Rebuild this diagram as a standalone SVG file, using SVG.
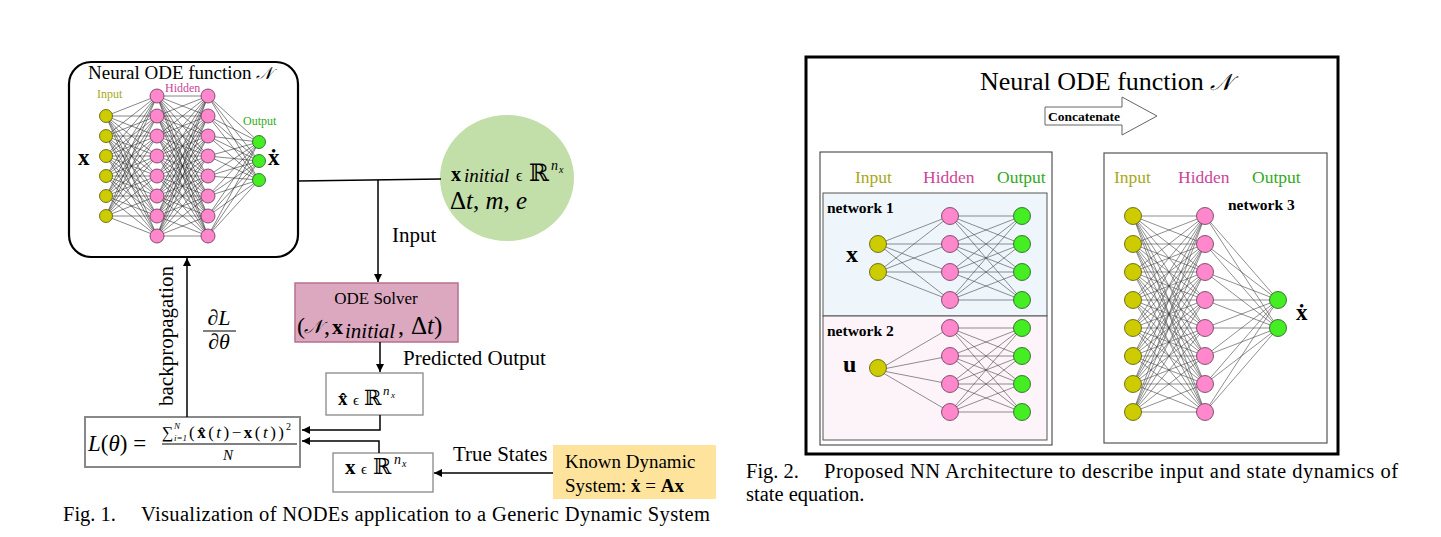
<svg xmlns="http://www.w3.org/2000/svg" width="1441" height="537" viewBox="0 0 1441 537">
<defs>
<style>
.t{font-family:"Liberation Serif","DejaVu Serif",serif;fill:#000}
.m{font-family:"Liberation Serif","DejaVu Serif",serif;fill:#000;font-style:italic}
.b{font-family:"Liberation Serif","DejaVu Serif",serif;fill:#000;font-weight:bold}
.conn{stroke:#000;stroke-width:1.5;fill:none}
.nnl{stroke:#222;stroke-width:0.55;fill:none}
.nnr{stroke:#444;stroke-width:0.6;fill:none}
.ny{fill:#cccc00;stroke:#555500;stroke-width:0.8}
.np{fill:#ff88cc;stroke:#663355;stroke-width:0.8}
.ng{fill:#44ee22;stroke:#225522;stroke-width:0.8}
.hy{fill:#a8a820}
.hp{fill:#cc4499}
.hg{fill:#33aa22}
.box{fill:#fff;stroke:#888;stroke-width:1.3}
.dash{stroke:#666;stroke-width:1;stroke-dasharray:9 6;fill:none}
</style>
<marker id="ah" viewBox="0 0 10 10" refX="10" refY="5" markerWidth="10" markerHeight="8" markerUnits="userSpaceOnUse" orient="auto">
<path d="M0 0L10 5L0 10z" fill="#000"/>
</marker>
</defs>
<rect width="1441" height="537" fill="#fff"/>

<!-- LEFT FIGURE -->
<g id="neural-ode-box">
<rect x="69" y="62" width="229" height="195" rx="22" fill="#fff" stroke="#000" stroke-width="2.2"/>
<text class="t" x="88" y="79" font-size="19">Neural ODE function <tspan class="m" font-size="17">𝒩</tspan></text>
<text class="t hy" x="97" y="98" font-size="12">Input</text>
<text class="t hp" x="165" y="92" font-size="12">Hidden</text>
<text class="t hg" x="243" y="125" font-size="12">Output</text>
<path class="nnl" d="M106 116L157 96M106 116L157 116M106 116L157 136M106 116L157 156M106 116L157 176M106 116L157 196M106 116L157 216M106 116L157 236M106 136L157 96M106 136L157 116M106 136L157 136M106 136L157 156M106 136L157 176M106 136L157 196M106 136L157 216M106 136L157 236M106 156L157 96M106 156L157 116M106 156L157 136M106 156L157 156M106 156L157 176M106 156L157 196M106 156L157 216M106 156L157 236M106 176L157 96M106 176L157 116M106 176L157 136M106 176L157 156M106 176L157 176M106 176L157 196M106 176L157 216M106 176L157 236M106 196L157 96M106 196L157 116M106 196L157 136M106 196L157 156M106 196L157 176M106 196L157 196M106 196L157 216M106 196L157 236M106 216L157 96M106 216L157 116M106 216L157 136M106 216L157 156M106 216L157 176M106 216L157 196M106 216L157 216M106 216L157 236"/>
<path class="nnl" d="M157 96L208 96M157 96L208 116M157 96L208 136M157 96L208 156M157 96L208 176M157 96L208 196M157 96L208 216M157 96L208 236M157 116L208 96M157 116L208 116M157 116L208 136M157 116L208 156M157 116L208 176M157 116L208 196M157 116L208 216M157 116L208 236M157 136L208 96M157 136L208 116M157 136L208 136M157 136L208 156M157 136L208 176M157 136L208 196M157 136L208 216M157 136L208 236M157 156L208 96M157 156L208 116M157 156L208 136M157 156L208 156M157 156L208 176M157 156L208 196M157 156L208 216M157 156L208 236M157 176L208 96M157 176L208 116M157 176L208 136M157 176L208 156M157 176L208 176M157 176L208 196M157 176L208 216M157 176L208 236M157 196L208 96M157 196L208 116M157 196L208 136M157 196L208 156M157 196L208 176M157 196L208 196M157 196L208 216M157 196L208 236M157 216L208 96M157 216L208 116M157 216L208 136M157 216L208 156M157 216L208 176M157 216L208 196M157 216L208 216M157 216L208 236M157 236L208 96M157 236L208 116M157 236L208 136M157 236L208 156M157 236L208 176M157 236L208 196M157 236L208 216M157 236L208 236"/>
<path class="nnl" d="M208 96L259 142M208 96L259 161M208 96L259 180M208 116L259 142M208 116L259 161M208 116L259 180M208 136L259 142M208 136L259 161M208 136L259 180M208 156L259 142M208 156L259 161M208 156L259 180M208 176L259 142M208 176L259 161M208 176L259 180M208 196L259 142M208 196L259 161M208 196L259 180M208 216L259 142M208 216L259 161M208 216L259 180M208 236L259 142M208 236L259 161M208 236L259 180"/>
<g class="ny"><circle cx="106" cy="116" r="6.5"/><circle cx="106" cy="136" r="6.5"/><circle cx="106" cy="156" r="6.5"/><circle cx="106" cy="176" r="6.5"/><circle cx="106" cy="196" r="6.5"/><circle cx="106" cy="216" r="6.5"/></g>
<g class="np"><circle cx="157" cy="96" r="7"/><circle cx="157" cy="116" r="7"/><circle cx="157" cy="136" r="7"/><circle cx="157" cy="156" r="7"/><circle cx="157" cy="176" r="7"/><circle cx="157" cy="196" r="7"/><circle cx="157" cy="216" r="7"/><circle cx="157" cy="236" r="7"/>
<circle cx="208" cy="96" r="7"/><circle cx="208" cy="116" r="7"/><circle cx="208" cy="136" r="7"/><circle cx="208" cy="156" r="7"/><circle cx="208" cy="176" r="7"/><circle cx="208" cy="196" r="7"/><circle cx="208" cy="216" r="7"/><circle cx="208" cy="236" r="7"/></g>
<g class="ng"><circle cx="259" cy="142" r="6.5"/><circle cx="259" cy="161" r="6.5"/><circle cx="259" cy="180" r="6.5"/></g>
<text class="b" x="78" y="165" font-size="23">x</text>
<text class="b" x="268" y="165" font-size="23">ẋ</text>
</g>

<g id="initial-conditions">
<ellipse cx="507" cy="178" rx="67" ry="63" fill="#c2dea9"/>
<text class="b" x="451" y="181" font-size="20">x</text>
<text class="m" x="464" y="182" font-size="19">initial</text>
<text class="t" x="516" y="181" font-size="16">ϵ</text>
<text class="t" x="529" y="181" font-size="24">ℝ</text>
<text class="m" x="551" y="170" font-size="14">n</text>
<text class="m" x="559" y="173" font-size="10">x</text>
<text class="t" x="450" y="209" font-size="25">Δ<tspan class="m">t</tspan>, <tspan class="m">m</tspan>, <tspan class="m">e</tspan></text>
</g>

<g id="ode-solver">
<rect x="295" y="283" width="163" height="59" fill="#dca8bf" stroke="#b5708f" stroke-width="1.5"/>
<text class="t" x="376" y="304" font-size="17" text-anchor="middle">ODE Solver</text>
<text class="t" x="297" y="334" font-size="24">(</text>
<text class="m" x="304" y="333" font-size="19">𝒩</text>
<text class="t" x="324" y="334" font-size="24">,</text>
<text class="b" x="332" y="334" font-size="22">x</text>
<text class="m" x="345" y="338" font-size="21">initial</text>
<text class="t" x="398" y="334" font-size="24">,</text>
<text class="t" x="411" y="334" font-size="25">Δ<tspan class="m">t</tspan>)</text>
</g>

<g id="predicted">
<rect class="box" x="326" y="373" width="97" height="42"/>
<text class="b" x="338" y="405" font-size="19">x̂</text>
<text class="t" x="353" y="405" font-size="15">ϵ</text>
<text class="t" x="364" y="405" font-size="21">ℝ</text>
<text class="m" x="383" y="395" font-size="13">n</text>
<text class="m" x="391" y="398" font-size="9">x</text>
</g>

<g id="true-state">
<rect class="box" x="333" y="453" width="100" height="39"/>
<text class="b" x="345" y="474" font-size="21">x</text>
<text class="t" x="361" y="474" font-size="15">ϵ</text>
<text class="t" x="373" y="474" font-size="22">ℝ</text>
<text class="m" x="394" y="464" font-size="14">n</text>
<text class="m" x="402" y="467" font-size="10">x</text>
</g>

<g id="loss">
<rect x="85" y="417" width="215" height="50" fill="#fff" stroke="#888" stroke-width="2"/>
<text class="t" x="88" y="451" font-size="23"><tspan class="m">L</tspan>(<tspan class="m">θ</tspan>) =</text>
<text class="t" x="162" y="438" font-size="16">∑</text>
<text class="m" x="174" y="429" font-size="9">N</text>
<text class="m" x="174" y="441" font-size="9">i<tspan class="t">=1</tspan></text>
<text class="t" x="189" y="438" font-size="17" textLength="95">(<tspan class="b">x̂</tspan>(<tspan class="m">t</tspan>)−<tspan class="b">x</tspan>(<tspan class="m">t</tspan>))</text>
<text class="t" x="286" y="430" font-size="10">2</text>
<line x1="162" y1="444" x2="297" y2="444" stroke="#000" stroke-width="1"/>
<text class="m" x="228" y="460" font-size="15" text-anchor="middle">N</text>
</g>

<g id="known-system">
<rect x="553" y="445" width="163" height="54" fill="#fde39c"/>
<text class="t" x="565" y="468" font-size="19">Known Dynamic</text>
<text class="t" x="565" y="492" font-size="19">System: <tspan class="b">ẋ</tspan> = <tspan class="b">Ax</tspan></text>
</g>

<g id="connectors">
<path class="conn" d="M298 181L441 179"/>
<path class="conn" d="M378 180L378 282" marker-end="url(#ah)"/>
<path class="conn" d="M380 342L380 372" marker-end="url(#ah)"/>
<path class="conn" d="M380 415L380 430L302 430" marker-end="url(#ah)"/>
<path class="conn" d="M379 453L379 441L302 441" marker-end="url(#ah)"/>
<path class="conn" d="M553 473L434 473" marker-end="url(#ah)"/>
<path class="conn" d="M187 417L187 258" marker-end="url(#ah)"/>
<path class="dash" d="M1031 216H1124M1031 244H1124M1031 272H1124M1031 300H1124M1031 328H1124M1031 356H1124M1031 384H1124M1031 412H1124"/>
</g>

<g id="labels-left">
<text class="t" x="392" y="242" font-size="21">Input</text>
<text class="t" x="403" y="365" font-size="21">Predicted Output</text>
<text class="t" x="453" y="461" font-size="21">True States</text>
<text class="t" font-size="21" text-anchor="middle" transform="translate(173 336) rotate(-90)">backpropagation</text>
<text class="m" x="219" y="325" font-size="22" text-anchor="middle">∂L</text>
<line x1="203" y1="331" x2="236" y2="331" stroke="#000" stroke-width="1"/>
<text class="m" x="219" y="349" font-size="22" text-anchor="middle">∂θ</text>
<text class="t" x="63" y="521" font-size="20.5">Fig. 1.</text>
<text class="t" x="141" y="521" font-size="20.5" textLength="569">Visualization of NODEs application to a Generic Dynamic System</text>
</g>

<!-- RIGHT FIGURE -->
<g id="outer-frame">
<rect x="806" y="57" width="532" height="397" fill="#fff" stroke="#000" stroke-width="3"/>
<text class="t" x="980" y="90" font-size="26">Neural ODE function <tspan class="m" font-size="23">𝒩</tspan></text>
<polygon points="1045,107 1122,107 1122,97 1157,116 1122,135 1122,125 1045,125" fill="#fff" stroke="#666" stroke-width="1"/>
<text class="b" x="1084" y="121" font-size="13.5" text-anchor="middle">Concatenate</text>
</g>

<g id="networks-1-2">
<rect x="820" y="152" width="232" height="293" fill="#fff" stroke="#333" stroke-width="1"/>
<text class="t hy" x="855" y="183" font-size="17.5">Input</text>
<text class="t hp" x="923" y="183" font-size="17.5">Hidden</text>
<text class="t hg" x="997" y="183" font-size="17.5">Output</text>
</g>

<g id="network-1">
<rect x="823" y="193" width="224" height="123" fill="#eef6fc" stroke="#555" stroke-width="1"/>
<text class="b" x="827" y="213" font-size="15.5">network 1</text>
<path class="nnr" d="M878 244L950 216M878 244L950 244M878 244L950 272M878 244L950 300M878 272L950 216M878 272L950 244M878 272L950 272M878 272L950 300M950 216L1022 216M950 216L1022 244M950 216L1022 272M950 216L1022 300M950 244L1022 216M950 244L1022 244M950 244L1022 272M950 244L1022 300M950 272L1022 216M950 272L1022 244M950 272L1022 272M950 272L1022 300M950 300L1022 216M950 300L1022 244M950 300L1022 272M950 300L1022 300"/>
<g class="ny"><circle cx="878" cy="244" r="8.5"/><circle cx="878" cy="272" r="8.5"/></g>
<g class="np"><circle cx="950" cy="216" r="8.5"/><circle cx="950" cy="244" r="8.5"/><circle cx="950" cy="272" r="8.5"/><circle cx="950" cy="300" r="8.5"/></g>
<g class="ng"><circle cx="1022" cy="216" r="8.5"/><circle cx="1022" cy="244" r="8.5"/><circle cx="1022" cy="272" r="8.5"/><circle cx="1022" cy="300" r="8.5"/></g>
<text class="b" x="846" y="262" font-size="24">x</text>
</g>

<g id="network-2">
<rect x="823" y="316" width="224" height="124" fill="#fdf4fa" stroke="#555" stroke-width="1"/>
<text class="b" x="827" y="336" font-size="15.5">network 2</text>
<path class="nnr" d="M878 370L950 328M878 370L950 356M878 370L950 384M878 370L950 412M950 328L1022 328M950 328L1022 356M950 328L1022 384M950 328L1022 412M950 356L1022 328M950 356L1022 356M950 356L1022 384M950 356L1022 412M950 384L1022 328M950 384L1022 356M950 384L1022 384M950 384L1022 412M950 412L1022 328M950 412L1022 356M950 412L1022 384M950 412L1022 412"/>
<g class="ny"><circle cx="878" cy="368" r="8.5"/></g>
<g class="np"><circle cx="950" cy="328" r="8.5"/><circle cx="950" cy="356" r="8.5"/><circle cx="950" cy="384" r="8.5"/><circle cx="950" cy="412" r="8.5"/></g>
<g class="ng"><circle cx="1022" cy="328" r="8.5"/><circle cx="1022" cy="356" r="8.5"/><circle cx="1022" cy="384" r="8.5"/><circle cx="1022" cy="412" r="8.5"/></g>
<text class="b" x="843" y="372" font-size="24">u</text>
</g>

<g id="network-3">
<rect x="1104" y="153" width="223" height="290" fill="#fff" stroke="#555" stroke-width="1.2"/>
<text class="t hy" x="1114" y="183" font-size="17.5">Input</text>
<text class="t hp" x="1178" y="183" font-size="17.5">Hidden</text>
<text class="t hg" x="1252" y="183" font-size="17.5">Output</text>
<text class="b" x="1228" y="210" font-size="15.5">network 3</text>
<path class="nnr" d="M1133 216L1205 216M1133 216L1205 244M1133 216L1205 272M1133 216L1205 300M1133 216L1205 328M1133 216L1205 356M1133 216L1205 384M1133 216L1205 412M1133 244L1205 216M1133 244L1205 244M1133 244L1205 272M1133 244L1205 300M1133 244L1205 328M1133 244L1205 356M1133 244L1205 384M1133 244L1205 412M1133 272L1205 216M1133 272L1205 244M1133 272L1205 272M1133 272L1205 300M1133 272L1205 328M1133 272L1205 356M1133 272L1205 384M1133 272L1205 412M1133 300L1205 216M1133 300L1205 244M1133 300L1205 272M1133 300L1205 300M1133 300L1205 328M1133 300L1205 356M1133 300L1205 384M1133 300L1205 412M1133 328L1205 216M1133 328L1205 244M1133 328L1205 272M1133 328L1205 300M1133 328L1205 328M1133 328L1205 356M1133 328L1205 384M1133 328L1205 412M1133 356L1205 216M1133 356L1205 244M1133 356L1205 272M1133 356L1205 300M1133 356L1205 328M1133 356L1205 356M1133 356L1205 384M1133 356L1205 412M1133 384L1205 216M1133 384L1205 244M1133 384L1205 272M1133 384L1205 300M1133 384L1205 328M1133 384L1205 356M1133 384L1205 384M1133 384L1205 412M1133 412L1205 216M1133 412L1205 244M1133 412L1205 272M1133 412L1205 300M1133 412L1205 328M1133 412L1205 356M1133 412L1205 384M1133 412L1205 412"/>
<path class="nnr" d="M1205 216L1278 300M1205 216L1278 328M1205 244L1278 300M1205 244L1278 328M1205 272L1278 300M1205 272L1278 328M1205 300L1278 300M1205 300L1278 328M1205 328L1278 300M1205 328L1278 328M1205 356L1278 300M1205 356L1278 328M1205 384L1278 300M1205 384L1278 328M1205 412L1278 300M1205 412L1278 328"/>
<g class="ny"><circle cx="1133" cy="216" r="8.5"/><circle cx="1133" cy="244" r="8.5"/><circle cx="1133" cy="272" r="8.5"/><circle cx="1133" cy="300" r="8.5"/><circle cx="1133" cy="328" r="8.5"/><circle cx="1133" cy="356" r="8.5"/><circle cx="1133" cy="384" r="8.5"/><circle cx="1133" cy="412" r="8.5"/></g>
<g class="np"><circle cx="1205" cy="216" r="8.5"/><circle cx="1205" cy="244" r="8.5"/><circle cx="1205" cy="272" r="8.5"/><circle cx="1205" cy="300" r="8.5"/><circle cx="1205" cy="328" r="8.5"/><circle cx="1205" cy="356" r="8.5"/><circle cx="1205" cy="384" r="8.5"/><circle cx="1205" cy="412" r="8.5"/></g>
<g class="ng"><circle cx="1278" cy="300" r="8.5"/><circle cx="1278" cy="328" r="8.5"/></g>
<text class="b" x="1296" y="320" font-size="23">ẋ</text>
</g>

<g id="caption-2">
<text class="t" x="746" y="478" font-size="20.5">Fig. 2.</text>
<text class="t" x="824" y="478" font-size="20.5" textLength="574">Proposed NN Architecture to describe input and state dynamics of</text>
<text class="t" x="746" y="501" font-size="20.5">state equation.</text>
</g>
</svg>
